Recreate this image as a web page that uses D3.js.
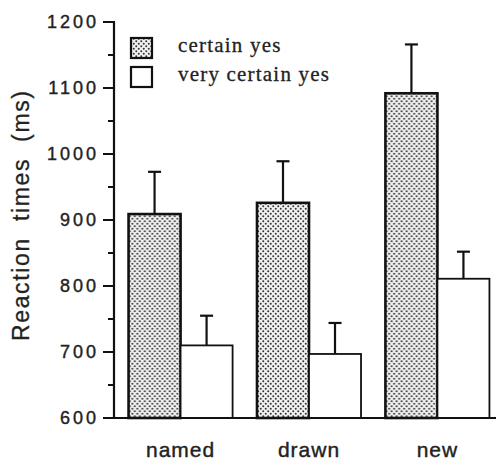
<!DOCTYPE html>
<html>
<head>
<meta charset="utf-8">
<script src="https://cdn.jsdelivr.net/npm/d3@7"></script>
<style>
  html, body { margin: 0; padding: 0; background: #fff; }
  svg { display: block; }
</style>
</head>
<body>
<svg id="chart" width="496" height="461"></svg>
<script>
// Reaction times by item type and confidence level
const categories = ["named", "drawn", "new"];
const seriesNames = ["certain yes", "very certain yes"];
const certainYes = [909, 926, 1092];
const veryCertainYes = [710, 697, 811];
const certainYesErrTop = [973, 989, 1166];
const veryCertainYesErrTop = [755, 744, 852];
const majorTicks = [600, 700, 800, 900, 1000, 1100, 1200];
const minorTicks = [650, 750, 850, 950, 1050, 1150];

const svg = d3.select("#chart");
const W = 496, H = 461;

// Stipple fill for the "certain yes" bars
const defs = svg.append("defs");
const pat = defs.append("pattern")
  .attr("id", "stipple")
  .attr("patternUnits", "userSpaceOnUse")
  .attr("width", 5).attr("height", 5);
pat.append("rect").attr("width", 5).attr("height", 5).attr("fill", "#f2f2f2");
pat.append("circle").attr("cx", 1.25).attr("cy", 1.25).attr("r", 1).attr("fill", "#333");
pat.append("circle").attr("cx", 3.75).attr("cy", 3.75).attr("r", 1).attr("fill", "#333");

const axisX = 114;
const y = d3.scaleLinear().domain([600, 1200]).range([418, 22]);

const x0 = d3.scaleBand().domain(categories).range([117, 501])
  .paddingInner(0.19).paddingOuter(0.09);
const x1 = d3.scaleBand().domain(seriesNames).range([0, x0.bandwidth()]);

const rows = categories.map((c, i) => ({
  cat: c,
  bars: [
    { s: seriesNames[0], v: certainYes[i], e: certainYesErrTop[i] },
    { s: seriesNames[1], v: veryCertainYes[i], e: veryCertainYesErrTop[i] }
  ]
}));

const sans = "Liberation Sans, Arial, sans-serif";

// Bars
const g = svg.append("g");
const groups = g.selectAll("g.grp").data(rows).join("g")
  .attr("class", "grp")
  .attr("transform", d => `translate(${x0(d.cat)},0)`);

// Error bars (upper only)
groups.selectAll("g.err").data(d => d.bars).join("g").attr("class", "err")
  .each(function(d) {
    const cx = x1(d.s) + x1.bandwidth() / 2;
    const sel = d3.select(this);
    sel.append("line")
      .attr("x1", cx).attr("x2", cx)
      .attr("y1", y(d.v)).attr("y2", y(d.e))
      .attr("stroke", "#111").attr("stroke-width", 2.2);
    sel.append("line")
      .attr("x1", cx - 6.5).attr("x2", cx + 6.5)
      .attr("y1", y(d.e)).attr("y2", y(d.e))
      .attr("stroke", "#111").attr("stroke-width", 2.2);
  });

groups.selectAll("rect").data(d => d.bars).join("rect")
  .attr("x", d => x1(d.s))
  .attr("width", x1.bandwidth())
  .attr("y", d => y(d.v))
  .attr("height", d => y(600) - y(d.v))
  .attr("fill", d => d.s === seriesNames[0] ? "url(#stipple)" : "#fff")
  .attr("stroke", "#111")
  .attr("stroke-width", d => d.s === seriesNames[0] ? 2.6 : 1.8);

// Y axis
const yAxis = svg.append("g").attr("transform", `translate(${axisX},0)`);
yAxis.append("line")
  .attr("x1", 0).attr("x2", 0).attr("y1", y(1200) - 1).attr("y2", y(600))
  .attr("stroke", "#111").attr("stroke-width", 2.2);
yAxis.selectAll("line.major").data(majorTicks).join("line")
  .attr("class", "major")
  .attr("x1", -11).attr("x2", 0)
  .attr("y1", d => y(d)).attr("y2", d => y(d))
  .attr("stroke", "#111").attr("stroke-width", 2);
yAxis.selectAll("line.minor").data(minorTicks).join("line")
  .attr("class", "minor")
  .attr("x1", -6).attr("x2", 0)
  .attr("y1", d => y(d)).attr("y2", d => y(d))
  .attr("stroke", "#111").attr("stroke-width", 2);
yAxis.selectAll("text").data(majorTicks).join("text")
  .attr("x", -15)
  .attr("y", d => y(d))
  .attr("dy", "0.36em")
  .attr("text-anchor", "end")
  .attr("font-family", sans)
  .attr("font-size", 18)
  .attr("letter-spacing", 3)
  .attr("fill", "#222")
  .attr("stroke", "#222").attr("stroke-width", 0.4)
  .text(d => d);

// Baseline
svg.append("line")
  .attr("x1", axisX).attr("x2", W)
  .attr("y1", y(600)).attr("y2", y(600))
  .attr("stroke", "#111").attr("stroke-width", 2.2);

// Category labels
svg.selectAll("text.cat").data(categories).join("text")
  .attr("class", "cat")
  .attr("x", d => x0(d) + x0.bandwidth() / 2)
  .attr("y", 457)
  .attr("text-anchor", "middle")
  .attr("font-family", sans)
  .attr("font-size", 21)
  .attr("letter-spacing", 1)
  .attr("fill", "#222")
  .attr("stroke", "#222").attr("stroke-width", 0.4)
  .text(d => d);

// Y axis title
svg.append("text")
  .attr("transform", "translate(29,216) rotate(-90)")
  .attr("text-anchor", "middle")
  .attr("font-family", sans)
  .attr("font-size", 23)
  .attr("fill", "#222")
  .attr("stroke", "#222").attr("stroke-width", 0.3)
  .attr("textLength", 250)
  .attr("lengthAdjust", "spacing")
  .style("white-space", "pre")
  .text("Reaction  times  (ms)");

// Legend
const legend = svg.append("g");
const legendY = [38, 67];
seriesNames.forEach((s, i) => {
  legend.append("rect")
    .attr("x", 131).attr("y", legendY[i])
    .attr("width", 21).attr("height", 20)
    .attr("fill", i === 0 ? "url(#stipple)" : "#fff")
    .attr("stroke", "#111").attr("stroke-width", 2.2);
  legend.append("text")
    .attr("x", 178).attr("y", legendY[i] + 14)
    .attr("font-family", "Liberation Serif, Times New Roman, serif")
    .attr("font-size", 21)
    .attr("letter-spacing", 1.2)
    .attr("fill", "#222")
    .attr("stroke", "#222").attr("stroke-width", 0.3)
    .text(s);
});
</script>
</body>
</html>
